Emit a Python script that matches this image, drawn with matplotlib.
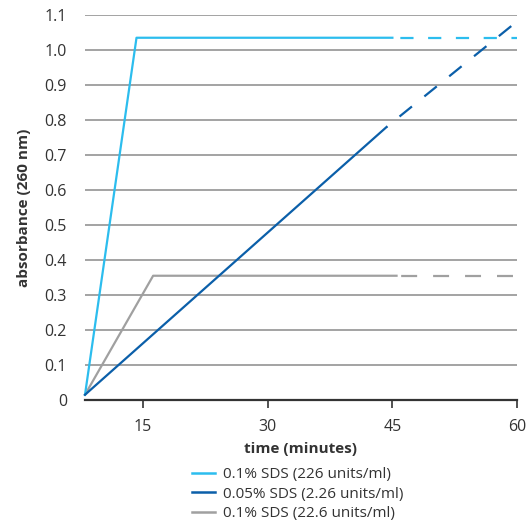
import matplotlib
matplotlib.use("Agg")
import matplotlib.pyplot as plt
from matplotlib.lines import Line2D

plt.rcParams['font.family'] = ['Open Sans', 'DejaVu Sans']
plt.rcParams['lines.scale_dashes'] = False

# data
light_t = [8, 14.2, 45]
light_y = [0.015, 1.035, 1.035]
light_dash_t = [45, 60]
light_dash_y = [1.035, 1.035]

dark_t = [8, 44.3]
dark_y = [0.015, 0.78]
dark_dash_t = [44.3, 59.5]
dark_dash_y = [0.78, 1.072]

gray_t = [8, 16.2, 45.5]
gray_y = [0.015, 0.355, 0.355]
gray_dash_t = [45.5, 59.7]
gray_dash_y = [0.355, 0.355]

labels = ["0.1% SDS (226 units/ml)", "0.05% SDS (2.26 units/ml)", "0.1% SDS (22.6 units/ml)"]
colors = ["#2cbdee", "#0b5fa9", "#a0a0a0"]
yticks = [0, 0.1, 0.2, 0.3, 0.4, 0.5, 0.6, 0.7, 0.8, 0.9, 1.0, 1.1]
ytick_labels = ["0", "0.1", "0.2", "0.3", "0.4", "0.5", "0.6", "0.7", "0.8", "0.9", "1.0", "1.1"]
xticks = [15, 30, 45, 60]

fig = plt.figure(figsize=(5.28, 5.27), dpi=100)
ax = fig.add_axes([85 / 528, 1 - 400 / 527, 432 / 528, 385 / 527])

for y in yticks[1:]:
    ax.axhline(y, color="#a3a3a3", lw=1.4, zorder=1)

# dashed continuations start with a gap, as in the reference
ax.plot(light_t, light_y, color=colors[0], lw=1.6, zorder=3, clip_on=False)
ax.plot(light_dash_t, light_dash_y, color=colors[0], lw=1.6, ls=(14, (9.5, 10.5)), zorder=3, clip_on=False)
ax.plot(dark_t, dark_y, color=colors[1], lw=1.6, zorder=3, clip_on=False)
ax.plot(dark_dash_t, dark_dash_y, color=colors[1], lw=1.6, ls=(11, (11.5, 11.5)), zorder=3, clip_on=False)
ax.plot(gray_t, gray_y, color=colors[2], lw=1.6, zorder=2, clip_on=False)
ax.plot(gray_dash_t, gray_dash_y, color=colors[2], lw=1.6, ls=(20, (11.5, 11.5)), zorder=2, clip_on=False)

ax.set_xlim(8, 60)
ax.set_ylim(0, 1.1)
ax.set_xticks(xticks)
ax.set_xticklabels([str(t) for t in xticks], fontsize=11.5, color="#333333")
ax.set_yticks(yticks)
ax.set_yticklabels(ytick_labels, fontsize=11.5, color="#333333")
ax.tick_params(axis='y', length=0, pad=13)
ax.tick_params(axis='x', length=6, width=1.2, direction='out', pad=8, color="#333333")

for s in ["top", "right", "left"]:
    ax.spines[s].set_visible(False)
ax.spines["bottom"].set_linewidth(1.6)
ax.spines["bottom"].set_color("#333333")

ax.set_xlabel("time (minutes)", fontsize=11, fontweight="bold", color="#333333", labelpad=5)
ax.set_ylabel("absorbance (260 nm)", fontsize=11, fontweight="bold", color="#333333", labelpad=10)

handles = [Line2D([], [], color=c, lw=1.8) for c in colors]
fig.legend(handles, labels, loc="upper left", bbox_to_anchor=(186 / 528, 1 - 461 / 527),
           frameon=False, fontsize=11, handlelength=1.5, handletextpad=0.5,
           labelspacing=0.3, labelcolor="#333333", borderaxespad=0)

fig.savefig("out.png", dpi=100)
